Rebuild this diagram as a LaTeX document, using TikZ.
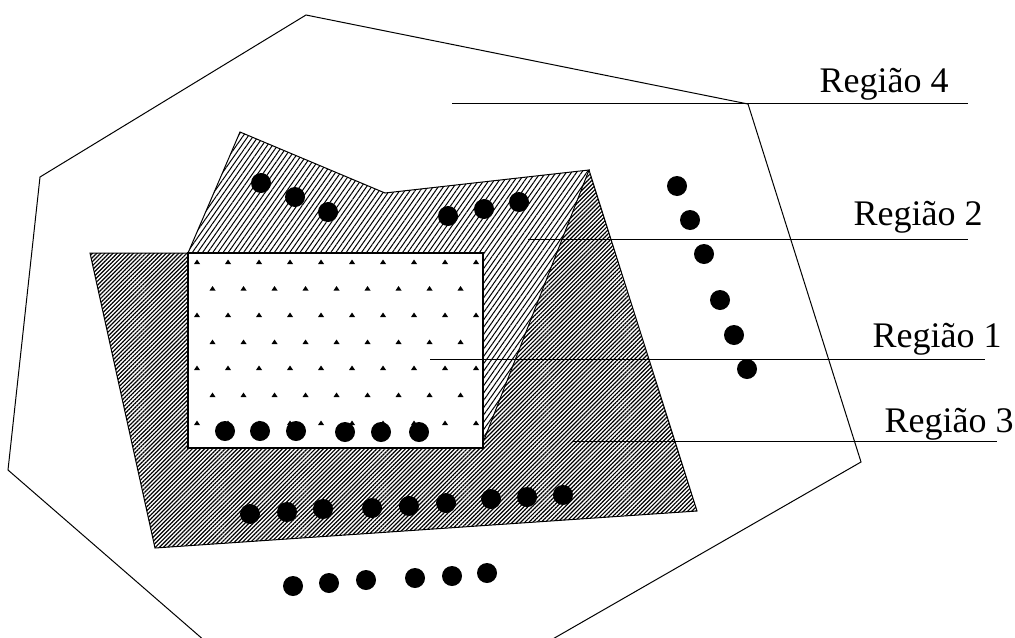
\documentclass[tikz,border=0pt]{standalone}
\usepackage{fontspec}
\setmainfont{Liberation Serif}
\usetikzlibrary{patterns.meta}
\begin{document}
\begin{tikzpicture}[x=0.5pt,y=-0.5pt,line width=0.5pt,
  bigdot/.style={fill=black},
  smalldot/.style={fill=black},
  leader/.style={line width=0.5pt},
  lbl/.style={anchor=base west,inner sep=0pt,font=\fontsize{18}{21}\selectfont},
  reg3/.style={draw,preaction={fill=white},pattern={Lines[angle=45,distance=1.45pt,line width=0.6pt]}},
  reg2/.style={draw,preaction={fill=white},pattern={Lines[angle=55,distance=2.1pt,line width=0.5pt]}},
  reg1/.style={draw,fill=white,line width=1pt}]
\useasboundingbox (0,0) rectangle (1015,637);
% Region 4 outline
\begin{scope}
\clip (0,0) rectangle (1015,637);
\draw (306,15) -- (748,104) -- (861,462) -- (342,760) -- (8,470) -- (40,177) -- cycle;
\end{scope}
% Region 3
\path[reg3] (90,253) -- (155,548) -- (697,511) -- (589,170) -- (500,253) -- cycle;
% Region 2
\path[reg2] (188,253) -- (240,132) -- (385,193) -- (589,170) -- (484,440) -- (300,440) -- cycle;
% Region 1
\path[reg1] (188,253) rectangle (483,448);
% small triangles in region 1
\foreach \y in {262,315,368,423}{
  \foreach \i in {0,...,9}{
    \pgfmathsetmacro{\xx}{197+31*\i}
    \fill[smalldot] (\xx-3,\y+2) -- (\xx+3,\y+2) -- (\xx,\y-2.5) -- cycle;
  }
}
\foreach \y in {288.5,342,395}{
  \foreach \i in {0,...,8}{
    \pgfmathsetmacro{\xx}{212.5+31*\i}
    \fill[smalldot] (\xx-3,\y+2) -- (\xx+3,\y+2) -- (\xx,\y-2.5) -- cycle;
  }
}
% big dots
\foreach \x/\y in {225/431,260/431,296/431,345/432,381/432,419/432,
  261/183,295/197,328/212,448/216,484/209,519/202,
  677/186,690/220,704/254,720/300,734/335,747/369,
  250/514,287/512,323/509,372/508,409/506,446/503,491/499,527/497,563/495,
  293/586,329/583,366/580,415/578,452/576,487/573}{
  \fill[bigdot] (\x,\y) circle[radius=5pt];
}
% leaders
\coordinate (l4a) at (452,103); \coordinate (l4b) at (968,103);
\coordinate (l2a) at (528,239); \coordinate (l2b) at (968,239);
\coordinate (l1a) at (430,359); \coordinate (l1b) at (985,359);
\coordinate (l3a) at (572,441); \coordinate (l3b) at (997,441);
\draw[leader] (l4a) -- (l4b);
\draw[leader] (l2a) -- (l2b);
\draw[leader] (l1a) -- (l1b);
\draw[leader] (l3a) -- (l3b);
% labels
\node[lbl] (t4) at (819,92) {Região 4};
\node[lbl] (t2) at (853,225) {Região 2};
\node[lbl] (t1) at (872,347) {Região 1};
\node[lbl] (t3) at (884,432) {Região 3};
\end{tikzpicture}
\end{document}
